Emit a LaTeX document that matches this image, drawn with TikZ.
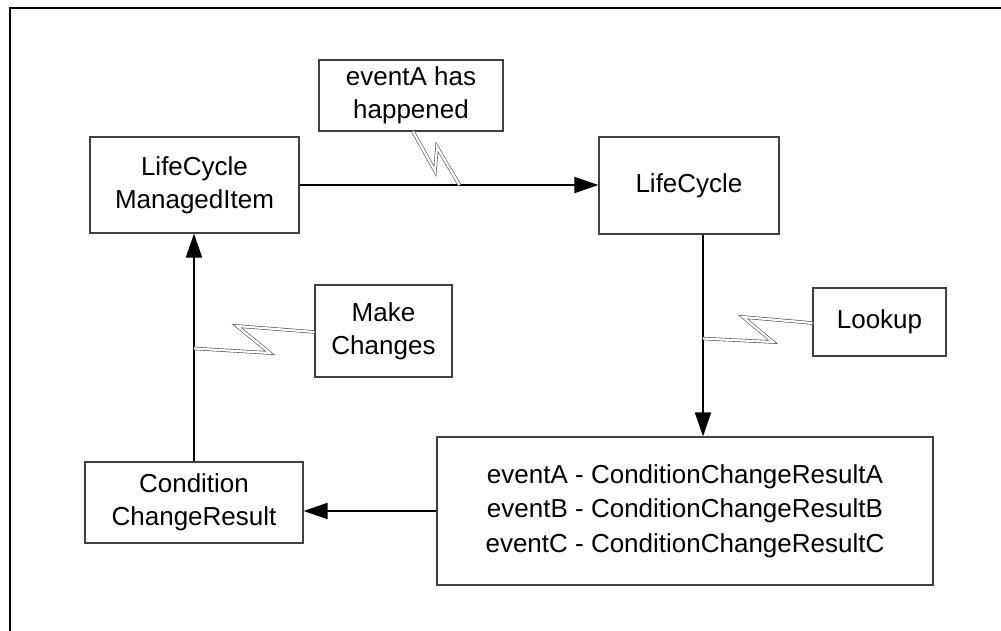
\documentclass[tikz,border=0pt]{standalone}
\usepackage{fontspec}
\setmainfont{Liberation Sans}
\usetikzlibrary{arrows.meta,calc}

\tikzset{
  box/.style={draw=black!75, line width=1.1pt, fill=white, align=center,
    inner sep=0pt, font=\fontsize{26}{33}\selectfont},
  flow/.style={line width=1.8pt, -{Triangle[length=24pt,width=16pt]}},
  bolt/.style={draw=black!70, line width=0.6pt, double=white,
    double distance=2.2pt, line join=miter},
  frameline/.style={line width=2pt}
}

\begin{document}
\begin{tikzpicture}[x=1pt,y=-1pt]
  \useasboundingbox (0,0) rectangle (1001,631);

  % partial outer frame
  \coordinate (fbl) at (9.5,631);
  \coordinate (ftl) at (9.5,8.5);
  \coordinate (ftr) at (1001,8.5);
  \draw[frameline] (fbl) -- (ftl) -- (ftr);

  % boxes
  \node[box, minimum width=209pt, minimum height=96pt] (lmi) at (194.5,185) {LifeCycle\\ManagedItem};
  \node[box, minimum width=184pt, minimum height=71pt] (evA) at (411,95.5) {eventA has\\happened};
  \node[box, minimum width=180pt, minimum height=97pt] (lc) at (689,185.5) {LifeCycle};
  \node[box, minimum width=137pt, minimum height=92pt] (mc) at (383.5,331) {Make\\Changes};
  \node[box, minimum width=133pt, minimum height=68pt] (lk) at (879.5,322) {Lookup};
  \node[box, minimum width=496pt, minimum height=148pt, font=\fontsize{26}{34.5}\selectfont] (ev) at (685,511)
    {eventA - ConditionChangeResultA\\eventB - ConditionChangeResultB\\eventC - ConditionChangeResultC};
  \node[box, minimum width=218pt, minimum height=81pt] (ccr) at (194,502.5) {Condition\\ChangeResult};

  % connectors
  \coordinate (dn) at (703,0);
  \draw[flow] (lmi.east) -- (lmi.east -| lc.west);
  \draw[flow] (lc.south -| dn) -- (ev.north -| dn);
  \draw[flow] (ev.west) -- (ev.west -| ccr.east);
  \draw[flow] (ccr.north) -- (ccr.north |- lmi.south);

  % lightning links from the notes
  \draw[bolt] ($(evA.south)+(2,0)$) -- (435,171) -- (437,147) -- ($(lmi.east -| lc.west)+(-139,0)$);
  \draw[bolt] ($(ccr.north)+(0,-113)$) -- (270,353) -- (237,326) -- (mc.west |- 0,332);
  \draw[bolt] ($(lc.south -| dn)+(0,104)$) -- (773,342) -- (743,317) -- (lk.west |- 0,323);
\end{tikzpicture}
\end{document}
